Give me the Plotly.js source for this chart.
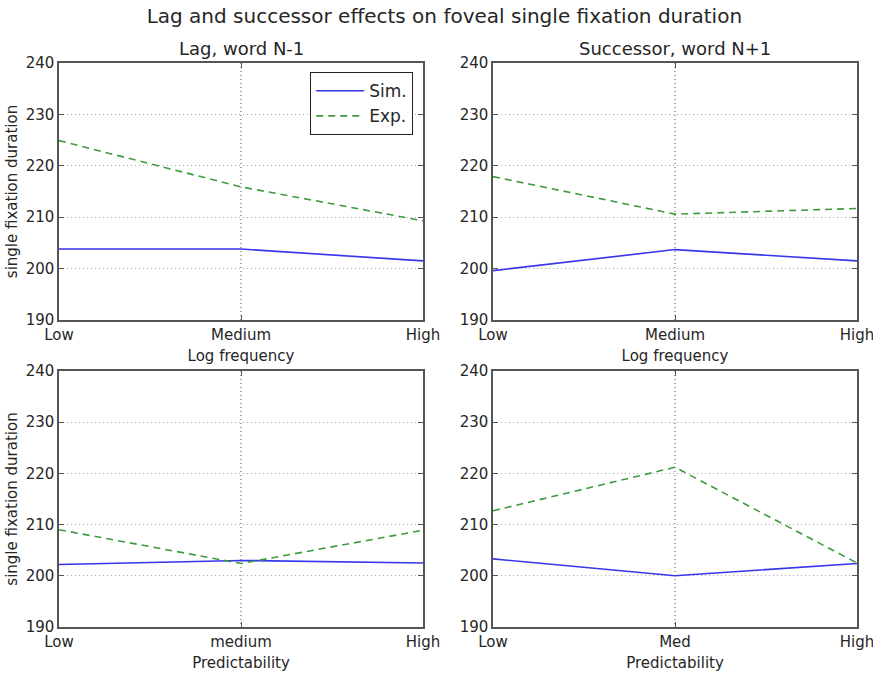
<!DOCTYPE html>
<html>
<head>
<meta charset="utf-8">
<script src="https://cdn.plot.ly/plotly-3.0.1.min.js"></script>
<style>html,body{margin:0;padding:0;background:#fff;}#chart{width:873px;height:673px;}</style>
</head>
<body>
<div id="chart"></div>
<script>
// Categories / tick labels
const freqCats = ["Low", "Medium", "High"];
const predCatsLag = ["Low", "medium", "High"];
const predCatsSucc = ["Low", "Med", "High"];

// Series values
const lagFreqSim = [203.8, 203.8, 201.5];
const lagFreqExp = [224.9, 215.9, 209.3];
const succFreqSim = [199.6, 203.7, 201.5];
const succFreqExp = [217.9, 210.6, 211.7];
const lagPredSim = [202.2, 203.0, 202.5];
const lagPredExp = [209.0, 202.4, 208.9];
const succPredSim = [203.3, 200.0, 202.4];
const succPredExp = [212.7, 221.2, 202.5];

const yTicks = [190, 200, 210, 220, 230, 240];

const simColor = '#3636ee';
const expColor = '#3d9a3d';
const FONT = 'DejaVu Sans, sans-serif';
const TXT = '#262626';

function simTrace(x, y, xa, ya, show) {
  return {x: x, y: y, xaxis: xa, yaxis: ya, type: 'scatter', mode: 'lines', name: 'Sim.',
    line: {color: simColor, width: 1.6}, showlegend: show, cliponaxis: false};
}
function expTrace(x, y, xa, ya, show) {
  return {x: x, y: y, xaxis: xa, yaxis: ya, type: 'scatter', mode: 'lines', name: 'Exp.',
    line: {color: expColor, width: 1.6, dash: '7px,5px'}, showlegend: show, cliponaxis: false};
}

const data = [
  simTrace(freqCats, lagFreqSim, 'x', 'y', true),
  expTrace(freqCats, lagFreqExp, 'x', 'y', true),
  simTrace(freqCats, succFreqSim, 'x2', 'y2', false),
  expTrace(freqCats, succFreqExp, 'x2', 'y2', false),
  simTrace(predCatsLag, lagPredSim, 'x3', 'y3', false),
  expTrace(predCatsLag, lagPredExp, 'x3', 'y3', false),
  simTrace(predCatsSucc, succPredSim, 'x4', 'y4', false),
  expTrace(predCatsSucc, succPredExp, 'x4', 'y4', false)
];

function xAxis(domain, anchor, title) {
  return {
    domain: domain, anchor: anchor, type: 'category', range: [0, 2],
    showline: true, mirror: 'ticks', linecolor: '#555', linewidth: 1.6,
    ticks: 'inside', ticklen: 5, tickcolor: '#555',
    showgrid: true, gridcolor: '#aaa', griddash: '1px,3px', gridwidth: 1.2,
    zeroline: false, automargin: false,
    tickfont: {family: FONT, size: 15, color: TXT},
    title: {text: title, font: {family: FONT, size: 15, color: TXT}, standoff: 8}
  };
}
function yAxis(domain, anchor, title) {
  return {
    domain: domain, anchor: anchor, range: [190, 240], tickvals: yTicks,
    showline: true, mirror: 'ticks', linecolor: '#555', linewidth: 1.6,
    ticks: 'inside', ticklen: 5, tickcolor: '#555',
    showgrid: true, gridcolor: '#aaa', griddash: '1px,3px', gridwidth: 1.2,
    zeroline: false, automargin: false,
    tickfont: {family: FONT, size: 15, color: TXT},
    title: {text: title, font: {family: FONT, size: 15, color: TXT}, standoff: 4}
  };
}

const L = 59, R = 16, T = 63, B = 46;
const W = 873 - L - R, H = 673 - T - B;
const xd1 = [0, (423 - L) / W];
const xd2 = [(493 - L) / W, 1];
const yd1 = [(673 - B - 320) / H, 1];
const yd2 = [0, (673 - B - 371) / H];

const layout = {
  width: 873, height: 673,
  margin: {l: L, r: R, t: T, b: B},
  paper_bgcolor: '#fff', plot_bgcolor: '#fff',
  font: {family: FONT, color: TXT},
  title: {text: 'Lag and successor effects on foveal single fixation duration',
    font: {family: FONT, size: 20, color: TXT}, x: 0.509, xanchor: 'center', y: 0.976, yanchor: 'middle'},
  xaxis: xAxis(xd1, 'y', 'Log frequency'),
  yaxis: yAxis(yd1, 'x', 'single fixation duration'),
  xaxis2: xAxis(xd2, 'y2', 'Log frequency'),
  yaxis2: yAxis(yd1, 'x2', ''),
  xaxis3: xAxis(xd1, 'y3', 'Predictability'),
  yaxis3: yAxis(yd2, 'x3', 'single fixation duration'),
  xaxis4: xAxis(xd2, 'y4', 'Predictability'),
  yaxis4: yAxis(yd2, 'x4', ''),
  showlegend: true,
  legend: {
    x: (413 - L) / W, xanchor: 'right', y: (673 - B - 72) / H, yanchor: 'top',
    bgcolor: '#fff', bordercolor: '#222', borderwidth: 1.2,
    itemwidth: 48, tracegroupgap: 4,
    font: {family: FONT, size: 17, color: TXT}
  },
  annotations: [
    {text: 'Lag, word N-1', xref: 'paper', yref: 'paper', x: (xd1[0] + xd1[1]) / 2, y: 1, yshift: 2,
      xanchor: 'center', yanchor: 'bottom', showarrow: false, font: {family: FONT, size: 18, color: TXT}},
    {text: 'Successor, word N+1', xref: 'paper', yref: 'paper', x: (xd2[0] + xd2[1]) / 2, y: 1, yshift: 2,
      xanchor: 'center', yanchor: 'bottom', showarrow: false, font: {family: FONT, size: 18, color: TXT}}
  ]
};

Plotly.newPlot('chart', data, layout, {displayModeBar: false, staticPlot: true});
</script>
</body>
</html>
